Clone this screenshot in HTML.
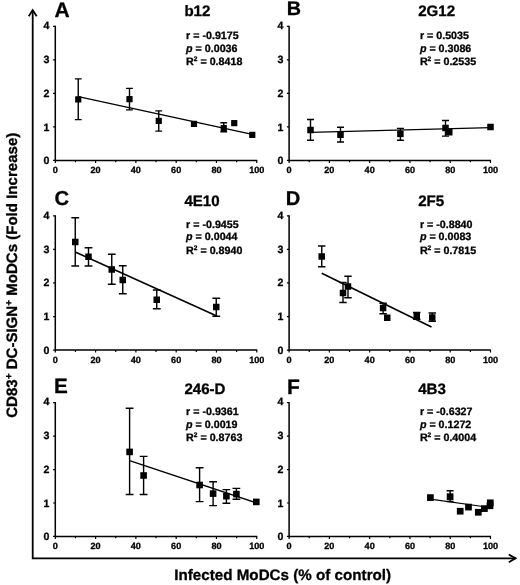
<!DOCTYPE html>
<html lang="en">
<head>
<meta charset="utf-8">
<title>CD83+ DC-SIGN+ MoDCs vs Infected MoDCs</title>
<style>
html,body{margin:0;padding:0;background:#fff;}
body{width:520px;height:585px;overflow:hidden;}
svg{display:block;}
svg text{stroke:#000;stroke-width:0.3px;stroke-linejoin:round;}
</style>
</head>
<body>
<svg role="img" aria-label="Correlation of CD83+ DC-SIGN+ MoDCs fold increase with infected MoDCs for six antibodies" width="520" height="585" viewBox="0 0 520 585" font-family='"Liberation Sans", sans-serif' font-weight="bold" fill="#000" text-rendering="geometricPrecision">
<rect width="520" height="585" fill="#fff"/>
<g fill="none" stroke="#000" stroke-width="1.8" stroke-linecap="butt" stroke-linejoin="miter">
<path d="M32.7 10 V558.35 H515.6"/>
<path d="M28.7 16.3 L32.7 10.1 L36.7 16.3"/>
<path d="M508.8 554.45 L515.6 558.35 L508.8 562.25"/>
</g>
<text x="282.7" y="579.8" font-size="15.2" text-anchor="middle">Infected MoDCs (% of control)</text>
<text transform="translate(16.8 275.3) rotate(-90)" font-size="15.05" text-anchor="middle">CD83<tspan font-size="10" dy="-5">+</tspan><tspan dy="5"> DC-SIGN</tspan><tspan font-size="10" dy="-5">+</tspan><tspan dy="5"> MoDCs (Fold Increase)</tspan></text>
<g>
<path d="M55.3 25.8 V160.45 H257.25" fill="none" stroke="#000" stroke-width="1.5"/>
<path d="M53.10 160.45 H55.3 M53.10 126.91 H55.3 M53.10 93.38 H55.3 M53.10 59.84 H55.3 M53.10 26.30 H55.3 M55.30 160.45 V162.95 M75.44 160.45 V162.35 M95.59 160.45 V162.95 M115.73 160.45 V162.35 M135.88 160.45 V162.95 M156.02 160.45 V162.35 M176.17 160.45 V162.95 M196.31 160.45 V162.35 M216.46 160.45 V162.95 M236.61 160.45 V162.35 M256.75 160.45 V162.95" fill="none" stroke="#000" stroke-width="1.2"/>
<text x="49.50" y="164.20" font-size="10.6" text-anchor="end">0</text>
<text x="49.50" y="131.26" font-size="10.6" text-anchor="end">1</text>
<text x="49.50" y="97.33" font-size="10.6" text-anchor="end">2</text>
<text x="49.50" y="63.39" font-size="10.6" text-anchor="end">3</text>
<text x="49.50" y="29.35" font-size="10.6" text-anchor="end">4</text>
<text x="55.30" y="173.25" font-size="9.1" text-anchor="middle">0</text>
<text x="95.59" y="173.25" font-size="9.1" text-anchor="middle">20</text>
<text x="135.88" y="173.25" font-size="9.1" text-anchor="middle">40</text>
<text x="176.17" y="173.25" font-size="9.1" text-anchor="middle">60</text>
<text x="216.46" y="173.25" font-size="9.1" text-anchor="middle">80</text>
<text x="256.75" y="173.25" font-size="9.1" text-anchor="middle">100</text>
<text x="54.40" y="16.50" font-size="21">A</text>
<text x="184.40" y="15.90" font-size="15.1">b12</text>
<text x="186.10" y="39.30" font-size="10.7">r = -0.9175</text>
<text x="186.10" y="52.20" font-size="10.7"><tspan font-style="italic">p</tspan> = 0.0036</text>
<text x="186.10" y="65.30" font-size="10.7">R<tspan font-size="6.6" dy="-4">2</tspan><tspan dy="4"> = 0.8418</tspan></text>
<path d="M78.25 96.6 L252.25 134.4" fill="none" stroke="#000" stroke-width="1.4"/>
<path d="M78.25 78.9 V119.65 M74.85 78.9 H81.65 M74.85 119.65 H81.65 M129.5 88.4 V109.9 M126.10 88.4 H132.90 M126.10 109.9 H132.90 M158.75 110.9 V131.15 M155.35 110.9 H162.15 M155.35 131.15 H162.15 M223.75 122.8 V131.8 M220.35 122.8 H227.15 M220.35 131.8 H227.15" fill="none" stroke="#000" stroke-width="1.4"/>
<rect x="75.15" y="96.30" width="6.2" height="6.2"/>
<rect x="126.40" y="96.05" width="6.2" height="6.2"/>
<rect x="155.65" y="117.80" width="6.2" height="6.2"/>
<rect x="190.90" y="120.80" width="6.2" height="6.2"/>
<rect x="220.65" y="125.00" width="6.2" height="6.2"/>
<rect x="231.15" y="120.05" width="6.2" height="6.2"/>
<rect x="249.15" y="131.80" width="6.2" height="6.2"/>
</g>
<g>
<path d="M289.1 25.8 V160.45 H491.0" fill="none" stroke="#000" stroke-width="1.5"/>
<path d="M286.90 160.45 H289.1 M286.90 126.91 H289.1 M286.90 93.38 H289.1 M286.90 59.84 H289.1 M286.90 26.30 H289.1 M289.10 160.45 V162.95 M309.24 160.45 V162.35 M329.38 160.45 V162.95 M349.52 160.45 V162.35 M369.66 160.45 V162.95 M389.80 160.45 V162.35 M409.94 160.45 V162.95 M430.08 160.45 V162.35 M450.22 160.45 V162.95 M470.36 160.45 V162.35 M490.50 160.45 V162.95" fill="none" stroke="#000" stroke-width="1.2"/>
<text x="283.30" y="164.20" font-size="10.6" text-anchor="end">0</text>
<text x="283.30" y="131.26" font-size="10.6" text-anchor="end">1</text>
<text x="283.30" y="97.33" font-size="10.6" text-anchor="end">2</text>
<text x="283.30" y="63.39" font-size="10.6" text-anchor="end">3</text>
<text x="283.30" y="29.35" font-size="10.6" text-anchor="end">4</text>
<text x="289.10" y="173.25" font-size="9.1" text-anchor="middle">0</text>
<text x="329.38" y="173.25" font-size="9.1" text-anchor="middle">20</text>
<text x="369.66" y="173.25" font-size="9.1" text-anchor="middle">40</text>
<text x="409.94" y="173.25" font-size="9.1" text-anchor="middle">60</text>
<text x="450.22" y="173.25" font-size="9.1" text-anchor="middle">80</text>
<text x="490.50" y="173.25" font-size="9.1" text-anchor="middle">100</text>
<text x="286.70" y="14.60" font-size="19.8">B</text>
<text x="418.20" y="15.90" font-size="15.1">2G12</text>
<text x="419.90" y="39.30" font-size="10.7">r = 0.5035</text>
<text x="419.90" y="52.20" font-size="10.7"><tspan font-style="italic">p</tspan> = 0.3086</text>
<text x="419.90" y="65.30" font-size="10.7">R<tspan font-size="6.6" dy="-4">2</tspan><tspan dy="4"> = 0.2535</tspan></text>
<path d="M310.5 132.4 L490.5 127.6" fill="none" stroke="#000" stroke-width="1.4"/>
<path d="M310.5 119.5 V140.25 M307.00 119.5 H314.00 M307.00 140.25 H314.00 M340.5 127.25 V142.05 M337.00 127.25 H344.00 M337.00 142.05 H344.00 M400.4 128.4 V140.25 M396.90 128.4 H403.90 M396.90 140.25 H403.90 M445.5 120.5 V136.1 M442.00 120.5 H449.00 M442.00 136.1 H449.00" fill="none" stroke="#000" stroke-width="1.4"/>
<rect x="307.25" y="126.75" width="6.5" height="6.5"/>
<rect x="337.25" y="131.50" width="6.5" height="6.5"/>
<rect x="397.15" y="130.60" width="6.5" height="6.5"/>
<rect x="442.25" y="124.75" width="6.5" height="6.5"/>
<rect x="446.00" y="129.00" width="6.5" height="6.5"/>
<rect x="487.25" y="123.75" width="6.5" height="6.5"/>
</g>
<g>
<path d="M55.3 215.3 V350.1 H257.25" fill="none" stroke="#000" stroke-width="1.5"/>
<path d="M53.10 350.10 H55.3 M53.10 316.53 H55.3 M53.10 282.95 H55.3 M53.10 249.38 H55.3 M53.10 215.80 H55.3 M55.30 350.1 V352.60 M75.44 350.1 V352.00 M95.59 350.1 V352.60 M115.73 350.1 V352.00 M135.88 350.1 V352.60 M156.02 350.1 V352.00 M176.17 350.1 V352.60 M196.31 350.1 V352.00 M216.46 350.1 V352.60 M236.61 350.1 V352.00 M256.75 350.1 V352.60" fill="none" stroke="#000" stroke-width="1.2"/>
<text x="49.50" y="353.55" font-size="10.6" text-anchor="end">0</text>
<text x="49.50" y="319.78" font-size="10.6" text-anchor="end">1</text>
<text x="49.50" y="286.40" font-size="10.6" text-anchor="end">2</text>
<text x="49.50" y="253.12" font-size="10.6" text-anchor="end">3</text>
<text x="49.50" y="219.05" font-size="10.6" text-anchor="end">4</text>
<text x="55.30" y="362.80" font-size="9.1" text-anchor="middle">0</text>
<text x="95.59" y="362.80" font-size="9.1" text-anchor="middle">20</text>
<text x="135.88" y="362.80" font-size="9.1" text-anchor="middle">40</text>
<text x="176.17" y="362.80" font-size="9.1" text-anchor="middle">60</text>
<text x="216.46" y="362.80" font-size="9.1" text-anchor="middle">80</text>
<text x="256.75" y="362.80" font-size="9.1" text-anchor="middle">100</text>
<text x="54.50" y="205.00" font-size="20.2">C</text>
<text x="184.40" y="205.80" font-size="15.1">4E10</text>
<text x="186.10" y="227.50" font-size="10.7">r = -0.9455</text>
<text x="186.10" y="240.40" font-size="10.7"><tspan font-style="italic">p</tspan> = 0.0044</text>
<text x="186.10" y="253.50" font-size="10.7">R<tspan font-size="6.6" dy="-4">2</tspan><tspan dy="4"> = 0.8940</tspan></text>
<path d="M75.25 252 L216.25 315.75" fill="none" stroke="#000" stroke-width="1.6"/>
<path d="M75.25 217.75 V266 M71.35 217.75 H79.15 M71.35 266 H79.15 M88.5 247.75 V266 M84.60 247.75 H92.40 M84.60 266 H92.40 M111.75 254.25 V284.25 M107.85 254.25 H115.65 M107.85 284.25 H115.65 M122.75 265.75 V293.75 M118.85 265.75 H126.65 M118.85 293.75 H126.65 M156.75 290 V308.75 M152.85 290 H160.65 M152.85 308.75 H160.65 M216.25 298.25 V316.25 M212.35 298.25 H220.15 M212.35 316.25 H220.15" fill="none" stroke="#000" stroke-width="1.4"/>
<rect x="72.00" y="238.75" width="6.5" height="6.5"/>
<rect x="85.25" y="253.50" width="6.5" height="6.5"/>
<rect x="108.50" y="266.25" width="6.5" height="6.5"/>
<rect x="119.50" y="276.75" width="6.5" height="6.5"/>
<rect x="153.50" y="296.50" width="6.5" height="6.5"/>
<rect x="213.00" y="303.75" width="6.5" height="6.5"/>
</g>
<g>
<path d="M289.1 215.3 V350.1 H491.0" fill="none" stroke="#000" stroke-width="1.5"/>
<path d="M286.90 350.10 H289.1 M286.90 316.53 H289.1 M286.90 282.95 H289.1 M286.90 249.38 H289.1 M286.90 215.80 H289.1 M289.10 350.1 V352.60 M309.24 350.1 V352.00 M329.38 350.1 V352.60 M349.52 350.1 V352.00 M369.66 350.1 V352.60 M389.80 350.1 V352.00 M409.94 350.1 V352.60 M430.08 350.1 V352.00 M450.22 350.1 V352.60 M470.36 350.1 V352.00 M490.50 350.1 V352.60" fill="none" stroke="#000" stroke-width="1.2"/>
<text x="283.30" y="353.55" font-size="10.6" text-anchor="end">0</text>
<text x="283.30" y="319.78" font-size="10.6" text-anchor="end">1</text>
<text x="283.30" y="286.40" font-size="10.6" text-anchor="end">2</text>
<text x="283.30" y="253.12" font-size="10.6" text-anchor="end">3</text>
<text x="283.30" y="219.05" font-size="10.6" text-anchor="end">4</text>
<text x="289.10" y="362.80" font-size="9.1" text-anchor="middle">0</text>
<text x="329.38" y="362.80" font-size="9.1" text-anchor="middle">20</text>
<text x="369.66" y="362.80" font-size="9.1" text-anchor="middle">40</text>
<text x="409.94" y="362.80" font-size="9.1" text-anchor="middle">60</text>
<text x="450.22" y="362.80" font-size="9.1" text-anchor="middle">80</text>
<text x="490.50" y="362.80" font-size="9.1" text-anchor="middle">100</text>
<text x="285.80" y="205.20" font-size="20.1">D</text>
<text x="418.20" y="205.80" font-size="15.1">2F5</text>
<text x="419.90" y="227.50" font-size="10.7">r = -0.8840</text>
<text x="419.90" y="240.40" font-size="10.7"><tspan font-style="italic">p</tspan> = 0.0083</text>
<text x="419.90" y="253.50" font-size="10.7">R<tspan font-size="6.6" dy="-4">2</tspan><tspan dy="4"> = 0.7815</tspan></text>
<path d="M321.75 273.25 L431.5 327" fill="none" stroke="#000" stroke-width="1.6"/>
<path d="M321.75 246 V266.75 M318.05 246 H325.45 M318.05 266.75 H325.45 M343 282.5 V302.5 M339.30 282.5 H346.70 M339.30 302.5 H346.70 M348 276.25 V297.75 M344.30 276.25 H351.70 M344.30 297.75 H351.70 M383.1 303.25 V313.75 M379.40 303.25 H386.80 M379.40 313.75 H386.80 M416.75 312.5 V319.25 M413.05 312.5 H420.45 M413.05 319.25 H420.45 M432.25 313 V321.25 M428.55 313 H435.95 M428.55 321.25 H435.95" fill="none" stroke="#000" stroke-width="1.4"/>
<rect x="318.50" y="253.25" width="6.5" height="6.5"/>
<rect x="339.75" y="289.75" width="6.5" height="6.5"/>
<rect x="344.75" y="283.25" width="6.5" height="6.5"/>
<rect x="379.85" y="304.75" width="6.5" height="6.5"/>
<rect x="384.00" y="314.50" width="6.5" height="6.5"/>
<rect x="413.50" y="312.50" width="6.5" height="6.5"/>
<rect x="429.00" y="314.25" width="6.5" height="6.5"/>
</g>
<g>
<path d="M55.3 402.1 V536.45 H257.25" fill="none" stroke="#000" stroke-width="1.5"/>
<path d="M53.10 536.45 H55.3 M53.10 502.99 H55.3 M53.10 469.53 H55.3 M53.10 436.06 H55.3 M53.10 402.60 H55.3 M55.30 536.45 V538.95 M75.44 536.45 V538.35 M95.59 536.45 V538.95 M115.73 536.45 V538.35 M135.88 536.45 V538.95 M156.02 536.45 V538.35 M176.17 536.45 V538.95 M196.31 536.45 V538.35 M216.46 536.45 V538.95 M236.61 536.45 V538.35 M256.75 536.45 V538.95" fill="none" stroke="#000" stroke-width="1.2"/>
<text x="49.50" y="540.40" font-size="10.6" text-anchor="end">0</text>
<text x="49.50" y="506.94" font-size="10.6" text-anchor="end">1</text>
<text x="49.50" y="473.08" font-size="10.6" text-anchor="end">2</text>
<text x="49.50" y="439.41" font-size="10.6" text-anchor="end">3</text>
<text x="49.50" y="405.15" font-size="10.6" text-anchor="end">4</text>
<text x="55.30" y="549.35" font-size="9.1" text-anchor="middle">0</text>
<text x="95.59" y="549.35" font-size="9.1" text-anchor="middle">20</text>
<text x="135.88" y="549.35" font-size="9.1" text-anchor="middle">40</text>
<text x="176.17" y="549.35" font-size="9.1" text-anchor="middle">60</text>
<text x="216.46" y="549.35" font-size="9.1" text-anchor="middle">80</text>
<text x="256.75" y="549.35" font-size="9.1" text-anchor="middle">100</text>
<text x="54.10" y="392.70" font-size="20.7">E</text>
<text x="184.40" y="393.85" font-size="15.1">246-D</text>
<text x="186.10" y="414.80" font-size="10.7">r = -0.9361</text>
<text x="186.10" y="427.70" font-size="10.7"><tspan font-style="italic">p</tspan> = 0.0019</text>
<text x="186.10" y="440.80" font-size="10.7">R<tspan font-size="6.6" dy="-4">2</tspan><tspan dy="4"> = 0.8763</tspan></text>
<path d="M129.6 460.6 L256.3 502.8" fill="none" stroke="#000" stroke-width="1.5"/>
<path d="M129.6 408.3 V494.5 M125.70 408.3 H133.50 M125.70 494.5 H133.50 M143.6 456.4 V494.5 M139.70 456.4 H147.50 M139.70 494.5 H147.50 M199.6 467.8 V501.6 M195.70 467.8 H203.50 M195.70 501.6 H203.50 M213.1 481.7 V505.6 M209.20 481.7 H217.00 M209.20 505.6 H217.00 M226.4 489.6 V503.3 M222.50 489.6 H230.30 M222.50 503.3 H230.30 M236.4 488.4 V499.3 M232.50 488.4 H240.30 M232.50 499.3 H240.30" fill="none" stroke="#000" stroke-width="1.4"/>
<rect x="126.30" y="448.60" width="6.6" height="6.6"/>
<rect x="140.30" y="472.20" width="6.6" height="6.6"/>
<rect x="196.30" y="481.70" width="6.6" height="6.6"/>
<rect x="209.80" y="490.30" width="6.6" height="6.6"/>
<rect x="223.10" y="492.90" width="6.6" height="6.6"/>
<rect x="233.10" y="490.80" width="6.6" height="6.6"/>
<rect x="253.00" y="498.60" width="6.6" height="6.6"/>
</g>
<g>
<path d="M289.1 402.1 V536.45 H491.0" fill="none" stroke="#000" stroke-width="1.5"/>
<path d="M286.90 536.45 H289.1 M286.90 502.99 H289.1 M286.90 469.53 H289.1 M286.90 436.06 H289.1 M286.90 402.60 H289.1 M289.10 536.45 V538.95 M309.24 536.45 V538.35 M329.38 536.45 V538.95 M349.52 536.45 V538.35 M369.66 536.45 V538.95 M389.80 536.45 V538.35 M409.94 536.45 V538.95 M430.08 536.45 V538.35 M450.22 536.45 V538.95 M470.36 536.45 V538.35 M490.50 536.45 V538.95" fill="none" stroke="#000" stroke-width="1.2"/>
<text x="283.30" y="540.40" font-size="10.6" text-anchor="end">0</text>
<text x="283.30" y="506.94" font-size="10.6" text-anchor="end">1</text>
<text x="283.30" y="473.08" font-size="10.6" text-anchor="end">2</text>
<text x="283.30" y="439.41" font-size="10.6" text-anchor="end">3</text>
<text x="283.30" y="405.15" font-size="10.6" text-anchor="end">4</text>
<text x="289.10" y="549.35" font-size="9.1" text-anchor="middle">0</text>
<text x="329.38" y="549.35" font-size="9.1" text-anchor="middle">20</text>
<text x="369.66" y="549.35" font-size="9.1" text-anchor="middle">40</text>
<text x="409.94" y="549.35" font-size="9.1" text-anchor="middle">60</text>
<text x="450.22" y="549.35" font-size="9.1" text-anchor="middle">80</text>
<text x="490.50" y="549.35" font-size="9.1" text-anchor="middle">100</text>
<text x="287.10" y="393.55" font-size="21">F</text>
<text x="418.20" y="393.85" font-size="15.1">4B3</text>
<text x="419.90" y="414.80" font-size="10.7">r = -0.6327</text>
<text x="419.90" y="427.70" font-size="10.7"><tspan font-style="italic">p</tspan> = 0.1272</text>
<text x="419.90" y="440.80" font-size="10.7">R<tspan font-size="6.6" dy="-4">2</tspan><tspan dy="4"> = 0.4004</tspan></text>
<path d="M430.4 499.1 L490 507.5" fill="none" stroke="#000" stroke-width="1.2"/>
<path d="M450.1 490.8 V501.5 M446.60 490.8 H453.60 M446.60 501.5 H453.60" fill="none" stroke="#000" stroke-width="1.4"/>
<rect x="427.05" y="494.25" width="6.7" height="6.7"/>
<rect x="446.75" y="493.35" width="6.7" height="6.7"/>
<rect x="456.85" y="507.85" width="6.7" height="6.7"/>
<rect x="465.15" y="503.75" width="6.7" height="6.7"/>
<rect x="474.95" y="508.95" width="6.7" height="6.7"/>
<rect x="481.05" y="505.25" width="6.7" height="6.7"/>
<rect x="486.95" y="499.45" width="6.7" height="6.7"/>
<rect x="486.65" y="502.45" width="6.7" height="6.7"/>
</g>
</svg>
</body>
</html>
